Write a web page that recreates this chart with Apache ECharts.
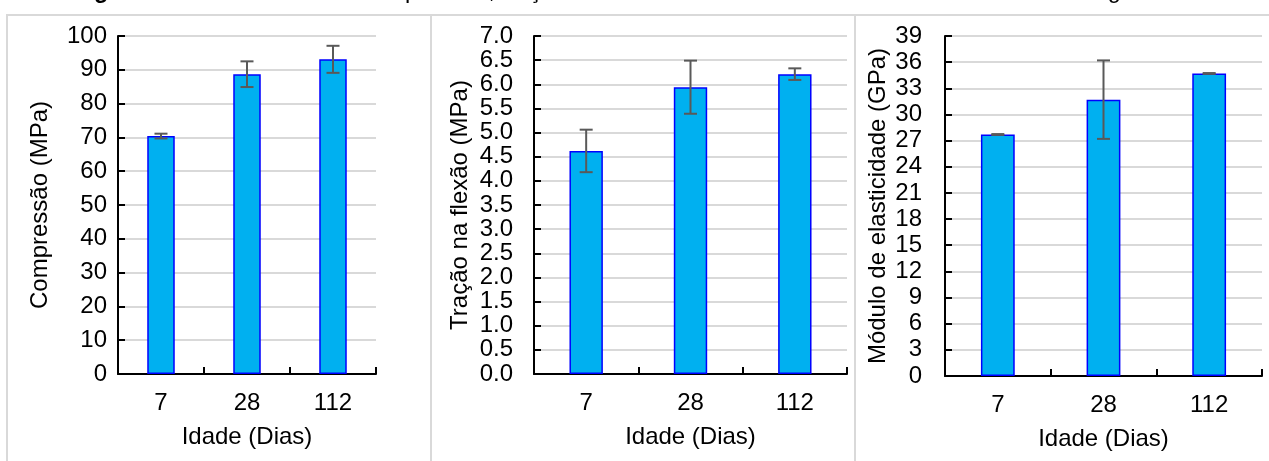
<!DOCTYPE html>
<html>
<head>
<meta charset="utf-8">
<script src="https://cdn.jsdelivr.net/npm/echarts@6/dist/echarts.min.js"></script>
<style>
  html, body { margin: 0; padding: 0; background: #fff; }
  #chart { width: 1269px; height: 461px; }
</style>
</head>
<body>
<div id="chart"></div>
<script>
// Ages (days) shared by the three panels
const idades = ['7', '28', '112'];

// Compressive strength (MPa): mean and standard deviation
const compressao = [70.4, 88.7, 93.1];
const compressaoDP = [0.7, 3.8, 4.0];

// Flexural tensile strength (MPa)
const tracao = [4.62, 5.94, 6.21];
const tracaoDP = [0.44, 0.55, 0.12];

// Modulus of elasticity (GPa)
const modulo = [27.7, 31.7, 34.7];
const moduloDP = [0.05, 4.5, 0.05];

// Y axis ranges and tick steps
const yMin = [0, 0, 0];
const yMax = [100, 7, 39];
const yStep = [10, 0.5, 3];
const yNomes = ['Compressão (MPa)', 'Tração na flexão (MPa)', 'Módulo de elasticidade (GPa)'];
const xNome = 'Idade (Dias)';
const tituloNumero = 'Figura 10 –';
const titulo = 'Resultados de compressão, tração na flexão e módulo de elasticidade dinâmico das argamassas';

const FONT = '"Liberation Sans", Arial, sans-serif';
const FS = 24;
const medias = [compressao, tracao, modulo];
const desvios = [compressaoDP, tracaoDP, moduloDP];

const grids = [
  { left: 118, right: 893, top: 36, bottom: 87 },
  { left: 534, right: 422, top: 36, bottom: 87 },
  { left: 945, right: 7, top: 36, bottom: 85 }
];
const nameGaps = [66, 62, 55];
const labelMargins = [11, 21, 23];

const xAxes = grids.map((g, i) => ({
  type: 'category',
  gridIndex: i,
  data: idades,
  axisLine: { lineStyle: { color: '#000', width: 2 } },
  axisTick: { show: true, inside: true, length: 7, lineStyle: { color: '#000', width: 2 } },
  axisLabel: { color: '#000', fontSize: FS, fontFamily: FONT, margin: 17 },
  name: xNome,
  nameLocation: 'middle',
  nameGap: 51,
  nameTextStyle: { color: '#000', fontSize: FS, fontFamily: FONT }
}));

const yAxes = grids.map((g, i) => ({
  type: 'value',
  gridIndex: i,
  min: yMin[i],
  max: yMax[i],
  interval: yStep[i],
  axisLine: { show: true, lineStyle: { color: '#000', width: 2 } },
  axisTick: { show: true, inside: true, length: 7, lineStyle: { color: '#000', width: 2 } },
  splitLine: { show: true, lineStyle: { color: '#d9d9d9', width: 2 } },
  axisLabel: {
    color: '#000', fontSize: FS, fontFamily: FONT, margin: labelMargins[i],
    formatter: v => i === 1 ? v.toFixed(1) : String(v)
  },
  name: yNomes[i],
  nameLocation: 'middle',
  nameGap: nameGaps[i],
  nameTextStyle: { color: '#000', fontSize: FS, fontFamily: FONT }
}));

const series = [];
medias.forEach((m, i) => {
  series.push({
    type: 'bar',
    xAxisIndex: i,
    yAxisIndex: i,
    data: m,
    barWidth: '32%',
    itemStyle: { color: '#00b0f0', borderColor: '#0000ff', borderWidth: 1.5 },
    z: 2
  });
  // Error bars: mean ± standard deviation
  series.push({
    type: 'custom',
    xAxisIndex: i,
    yAxisIndex: i,
    data: m.map((v, k) => [k, v - desvios[i][k], v + desvios[i][k]]),
    z: 5,
    renderItem: (params, api) => {
      const lo = api.coord([api.value(0), api.value(1)]);
      const hi = api.coord([api.value(0), api.value(2)]);
      const w = 6.5;
      const style = { stroke: '#595959', lineWidth: 2, fill: null };
      return {
        type: 'group',
        children: [
          { type: 'line', shape: { x1: hi[0], y1: hi[1], x2: lo[0], y2: lo[1] }, style },
          { type: 'line', shape: { x1: hi[0] - w, y1: hi[1], x2: hi[0] + w, y2: hi[1] }, style },
          { type: 'line', shape: { x1: lo[0] - w, y1: lo[1], x2: lo[0] + w, y2: lo[1] }, style }
        ]
      };
    }
  });
});

const chart = echarts.init(document.getElementById('chart'), null, { renderer: 'canvas' });
chart.setOption({
  animation: false,
  backgroundColor: '#fff',
  grid: grids,
  xAxis: xAxes,
  yAxis: yAxes,
  series: series,
  graphic: [
    { type: 'rect', shape: { x: 7, y: 15, width: 424, height: 460 }, style: { fill: null, stroke: '#d9d9d9', lineWidth: 2 }, z: -1 },
    { type: 'rect', shape: { x: 431, y: 15, width: 424, height: 460 }, style: { fill: null, stroke: '#d9d9d9', lineWidth: 2 }, z: -1 },
    { type: 'rect', shape: { x: 855, y: 15, width: 430, height: 460 }, style: { fill: null, stroke: '#d9d9d9', lineWidth: 2 }, z: -1 },
    {
      type: 'text', x: 644, y: -8,
      style: {
        text: '{b|' + tituloNumero + '} ' + titulo,
        align: 'center', verticalAlign: 'middle',
        fontSize: 23.5, fontFamily: FONT, fill: '#000',
        rich: { b: { fontWeight: 'bold', fontSize: 23.5, fontFamily: FONT, fill: '#000' } }
      }
    }
  ]
});
</script>
</body>
</html>
